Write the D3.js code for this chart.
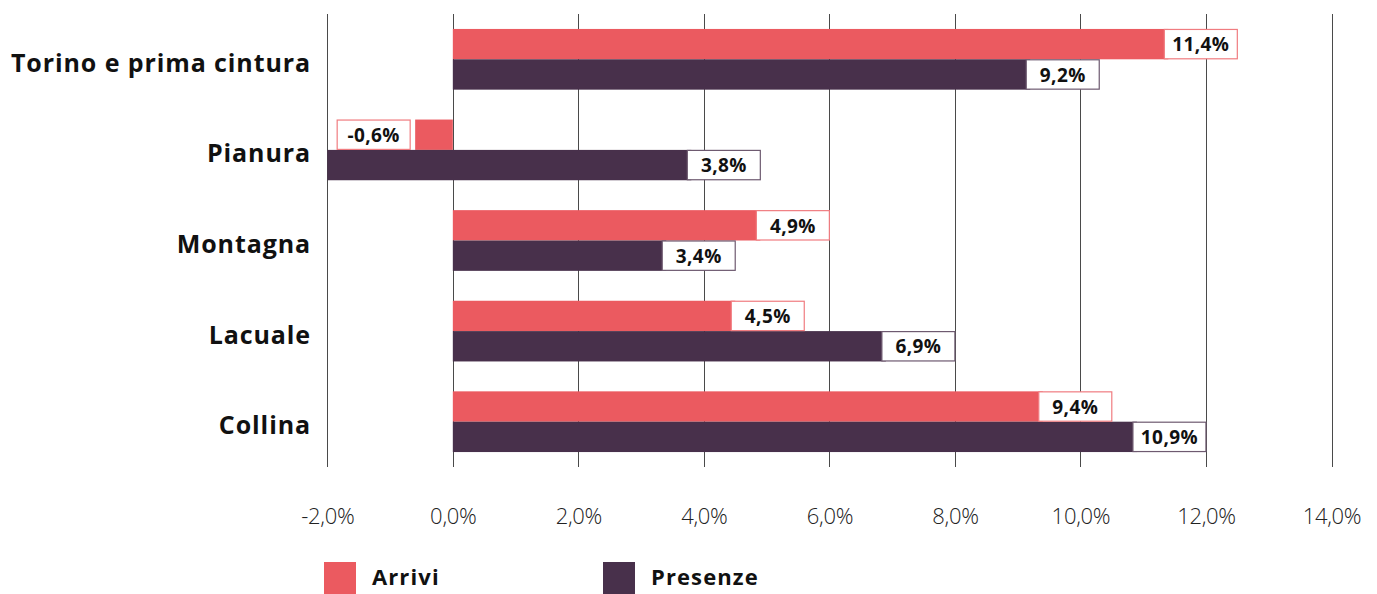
<!DOCTYPE html>
<html><head><meta charset="utf-8">
<script src="https://cdn.jsdelivr.net/npm/d3@7"></script>
<style>body{margin:0;background:#fff}svg{display:block}</style>
</head><body>
<script>
const categories = ["Torino e prima cintura", "Pianura", "Montagna", "Lacuale", "Collina"];
const arrivi = [11.4, -0.6, 4.9, 4.5, 9.4];
const presenze = [9.2, 3.8, 3.4, 6.9, 10.9];
// base value of each Presenze bar as drawn in the reference (Pianura starts at the axis minimum)
const presenzeBase = [0, -2, 0, 0, 0];
const tickValues = [-2, 0, 2, 4, 6, 8, 10, 12, 14];
const seriesNames = ["Arrivi", "Presenze"];
const colors = ["#EB5A60", "#48304B"];
const borderColors = ["#F07C80", "#6E5A70"];

const W = 1377, H = 594;
const svg = d3.select("body").append("svg").attr("width", W).attr("height", H);
const fmt = v => d3.format(".1f")(v).replace(".", ",").replace("\u2212", "-") + "%";

const x = d3.scaleLinear().domain([-2, 14]).range([327.3, 1331.5]);
const y = d3.scaleBand().domain(categories).range([14, 467]).paddingInner(0.33).paddingOuter(0.165);
const y2 = d3.scaleBand().domain(seriesNames).range([0, y.bandwidth()]);

// gridlines
svg.append("g").selectAll("line").data(tickValues).join("line")
  .attr("x1", d => Math.round(x(d)) + 0.5).attr("x2", d => Math.round(x(d)) + 0.5)
  .attr("y1", 14).attr("y2", 467).attr("stroke", "#4a4a4a").attr("stroke-width", 1);

// x axis tick labels
const xAxis = d3.axisBottom(x).tickValues(tickValues).tickFormat(fmt).tickSize(0).tickPadding(0);
const gx = svg.append("g").attr("transform", "translate(0,508)").call(xAxis);
gx.select(".domain").remove();
gx.selectAll("text").attr("font-family", "'Open Sans', sans-serif").attr("font-weight", 300)
  .attr("font-size", 22).attr("fill", "#222").attr("dy", "0.72em").attr("letter-spacing", -0.3);

// category labels
const yAxis = d3.axisLeft(y).tickSize(0).tickPadding(0);
const gy = svg.append("g").attr("transform", "translate(311,0)").call(yAxis);
gy.select(".domain").remove();
gy.selectAll("text").attr("font-family", "'Open Sans', sans-serif").attr("font-weight", 700)
  .attr("font-size", 25).attr("fill", "#111").attr("dy", "0.5em").attr("letter-spacing", 0.9);

const series = [
  { name: "Arrivi", values: arrivi, base: categories.map(() => 0), i: 0 },
  { name: "Presenze", values: presenze, base: presenzeBase, i: 1 }
];

series.forEach(s => {
  const rows = categories.map((c, k) => ({ c, v: s.values[k], b: s.base[k] }));
  const g = svg.append("g");
  g.selectAll("rect").data(rows).join("rect")
    .attr("x", d => Math.min(x(d.b), x(d.v)))
    .attr("width", d => Math.abs(x(d.v) - x(d.b)))
    .attr("y", d => y(d.c) + y2(s.name))
    .attr("height", y2.bandwidth())
    .attr("fill", colors[s.i]);
});

// value label boxes
series.forEach(s => {
  const rows = categories.map((c, k) => ({ c, v: s.values[k] }));
  const bw = 73, bh = y2.bandwidth() - 1;
  const lg = svg.append("g").selectAll("g").data(rows).join("g")
    .attr("transform", d => {
      const bx = d.v >= 0 ? x(d.v) - 4 : x(d.v) - 5 - bw;
      return `translate(${bx},${y(d.c) + y2(s.name) + 0.5})`;
    });
  lg.append("rect").attr("width", bw).attr("height", bh)
    .attr("fill", "#fff").attr("stroke", borderColors[s.i]).attr("stroke-width", 1.2);
  lg.append("text").attr("x", bw / 2).attr("y", bh / 2).attr("dy", "0.38em")
    .attr("text-anchor", "middle").attr("font-family", "'Open Sans', sans-serif")
    .attr("font-weight", 700).attr("font-size", 19).attr("letter-spacing", 0.4).attr("fill", "#111")
    .text(d => fmt(d.v));
});

// legend
const legX = d3.scalePoint().domain(seriesNames).range([324, 603]);
const lgd = svg.append("g").selectAll("g").data(seriesNames).join("g")
  .attr("transform", d => `translate(${legX(d)},562)`);
lgd.append("rect").attr("width", 32).attr("height", 32).attr("fill", (d, i) => colors[i]);
lgd.append("text").attr("x", 48).attr("y", 15).attr("dy", "0.38em")
  .attr("font-family", "'Open Sans', sans-serif").attr("font-weight", 700)
  .attr("font-size", 22).attr("letter-spacing", 1.1).attr("fill", "#111").text(d => d);
</script>
</body></html>
